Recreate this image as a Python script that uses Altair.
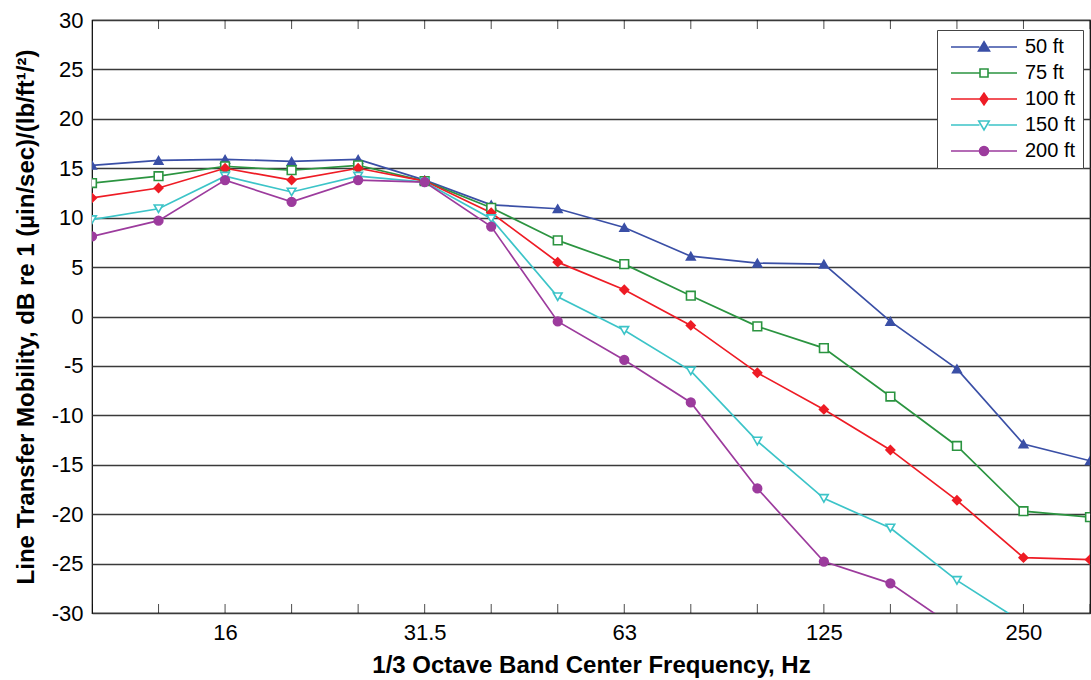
import altair as alt
import pandas as pd

# 1/3 octave band centre frequencies (plotted at equal spacing)
bands = ["10", "12.5", "16", "20", "25", "31.5", "40", "50", "63",
         "80", "100", "125", "160", "200", "250", "315"]
tick_idx = [2, 5, 8, 11, 14]
tick_lbl = ["16", "31.5", "63", "125", "250"]

series = ["50 ft", "75 ft", "100 ft", "150 ft", "200 ft"]
colors = ["#3A4FA6", "#2B9440", "#EE1C25", "#3CC4C8", "#9C3B9D"]
fills = ["#3A4FA6", "white", "#EE1C25", "white", "#9C3B9D"]
shapes = ["triangle-up", "square", "diamond", "triangle-down", "circle"]

v50 = [15.3, 15.8, 15.9, 15.7, 15.9, 13.8, 11.3, 10.9, 9.0, 6.1, 5.4, 5.3, -0.5, -5.3, -12.9, -14.6]
v75 = [13.5, 14.2, 15.2, 14.8, 15.3, 13.7, 11.0, 7.7, 5.3, 2.1, -1.0, -3.2, -8.1, -13.1, -19.7, -20.3]
v100 = [12.0, 13.0, 15.0, 13.8, 15.0, 13.7, 10.5, 5.5, 2.7, -0.9, -5.7, -9.4, -13.5, -18.6, -24.4, -24.6]
v150 = [9.8, 10.9, 14.2, 12.6, 14.2, 13.6, 9.9, 2.0, -1.4, -5.5, -12.6, -18.4, -21.4, -26.7, -31.0]
v200 = [8.1, 9.7, 13.8, 11.6, 13.8, 13.6, 9.1, -0.5, -4.4, -8.7, -17.4, -24.8, -27.0, -31.6]

rows = []
for name, shp, vals in zip(series, shapes, [v50, v75, v100, v150, v200]):
    for i, v in enumerate(vals):
        rows.append({"idx": i, "band": bands[i], "series": name, "shp": shp, "value": v})
df = pd.DataFrame(rows)

tick_df = pd.DataFrame(
    [{"idx": i, "value": yv} for i in range(len(bands)) for yv in (-30, 30)]
)

label_expr = "".join(
    f"datum.value == {i} ? '{l}' : " for i, l in zip(tick_idx, tick_lbl)
) + "''"

# legend symbols: line segment + marker (custom paths in unit box coords)
legend_paths = [
    "M-6.6,0H-0.9M0.9,0H6.6M0,-1.05L1.1,0.8L-1.1,0.8Z",
    "M-6.6,0H-0.8M0.8,0H6.6M-0.8,-0.8H0.8V0.8H-0.8Z",
    "M-6.6,0H-0.8M0.8,0H6.6M0,-1.15L0.8,0L0,1.15L-0.8,0Z",
    "M-6.6,0H-0.9M0.9,0H6.6M-1.05,-0.8L1.05,-0.8L0,1Z",
    "M-6.6,0H-0.9M0.9,0H6.6M-0.9,0A0.9,0.9,0,1,0,0.9,0A0.9,0.9,0,1,0,-0.9,0Z",
]

x_enc = alt.X(
    "idx:Q",
    scale=alt.Scale(domain=[0, 15], nice=False, zero=False),
    axis=alt.Axis(
        values=list(range(len(bands))),
        labelExpr=label_expr,
        labelOverlap=False,
        title="1/3 Octave Band Center Frequency, Hz",
        grid=False,
        tickSize=0,
        domain=False,
        labelPadding=9,
        titlePadding=10,
    ),
)
y_enc = alt.Y(
    "value:Q",
    scale=alt.Scale(domain=[-30, 30], nice=False, zero=False),
    axis=alt.Axis(
        values=list(range(-30, 31, 5)),
        labelExpr="'' + datum.value",
        grid=True,
        gridColor="#3a3a3a",
        gridWidth=1.4,
        tickSize=0,
        domain=False,
        labelPadding=9,
        titlePadding=13,
        title="Line Transfer Mobility, dB re 1 (µin/sec)/(lb/ft¹/²)",
    ),
)

color_scale = alt.Scale(domain=series, range=colors)
fill_scale = alt.Scale(domain=series, range=fills)

leg = alt.Legend(
    title=None,
    orient="none",
    legendX=845,
    legendY=10,
    strokeColor="#444444",
    fillColor="white",
    padding=7,
    labelFontSize=20,
    labelColor="black",
    symbolSize=100,
    symbolStrokeWidth=1.6,
    symbolOpacity=1,
    symbolOffset=30,
    labelOffset=31,
    rowPadding=6,
)

# invisible layer that only carries the legend (line + marker symbols)
legend_layer = (
    alt.Chart(df)
    .mark_point(opacity=0, strokeWidth=1.6, clip=True)
    .encode(
        x=x_enc,
        y=y_enc,
        color=alt.Color("series:N", scale=color_scale, legend=leg),
        fill=alt.Fill("series:N", scale=fill_scale, legend=leg),
        shape=alt.Shape("series:N", scale=alt.Scale(domain=series, range=legend_paths), legend=leg),
    )
)

lines = alt.Chart(df).mark_line(clip=True, strokeWidth=1.7).encode(
    x="idx:Q",
    y="value:Q",
    color=alt.Color("series:N", scale=color_scale),
    order="idx:Q",
)

points = alt.Chart(df).mark_point(clip=True, strokeWidth=1.6, opacity=1, size=75).encode(
    x="idx:Q",
    y="value:Q",
    color=alt.Color("series:N", scale=color_scale),
    fill=alt.Fill("series:N", scale=fill_scale),
    shape=alt.Shape("shp:N", scale=None),
)

ticks = alt.Chart(tick_df).mark_tick(
    clip=True, orient="vertical", size=18, thickness=1, color="black"
).encode(x="idx:Q", y="value:Q")

chart = (
    alt.layer(legend_layer, lines, points, ticks)
    .properties(
        width=998,
        height=593,
        autosize=alt.AutoSizeParams(type="none"),
        padding={"left": 92, "top": 20, "right": 1, "bottom": 67},
    )
    .configure(font="Liberation Sans")
    .configure_view(stroke="black", strokeWidth=1.2)
    .configure_axis(
        labelFontSize=22,
        labelColor="black",
        titleFontSize=24,
        titleFontWeight="bold",
        titleColor="black",
        labelFont="Liberation Sans",
        titleFont="Liberation Sans",
    )
    .configure_legend(labelFont="Liberation Sans")
)

chart.save("out.html", embed_options={"renderer": "svg", "actions": False})
